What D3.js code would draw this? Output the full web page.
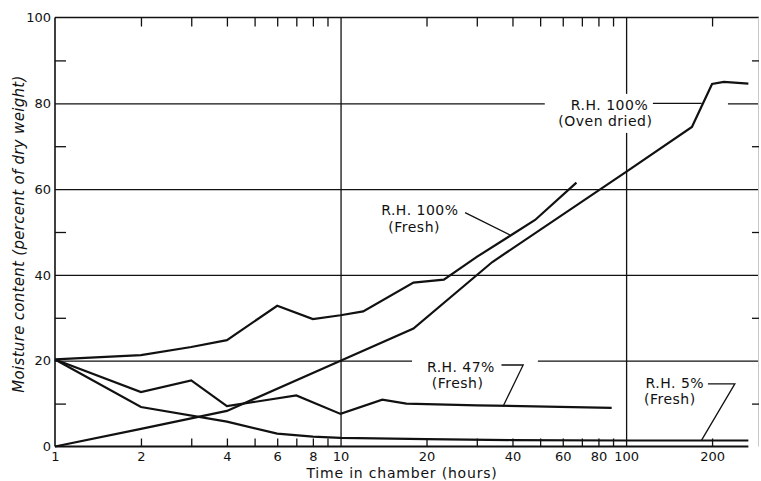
<!DOCTYPE html>
<html><head><meta charset="utf-8">
<script src="https://cdn.jsdelivr.net/npm/d3@7"></script>
<style>body{margin:0;background:#fff}svg{display:block}</style>
</head><body>
<svg id="chart" width="761" height="481"></svg>
<script>
// ---- data ----
const rh100FreshTime  = [1, 2, 3, 4, 6, 8, 10, 12, 18, 23, 30, 48, 67];
const rh100FreshValue = [20.3, 21.3, 23.2, 24.8, 32.8, 29.7, 30.6, 31.5, 38.2, 38.9, 44.2, 52.8, 61.5];

const rh100OvenTime  = [1, 2, 4, 10, 18, 34, 100, 170, 200, 220, 268];
const rh100OvenValue = [0, 4.1, 8.3, 20, 27.5, 43, 64, 74.5, 84.5, 85, 84.6];

const rh47FreshTime  = [1, 2, 3, 4, 7, 10, 14, 17, 30, 89];
const rh47FreshValue = [20.3, 12.7, 15.4, 9.4, 11.9, 7.6, 10.9, 10.0, 9.6, 9.0];

const rh5FreshTime  = [1, 2, 4, 6, 8, 10, 20, 40, 100, 268];
const rh5FreshValue = [20.3, 9.2, 5.8, 3.0, 2.3, 2.0, 1.7, 1.5, 1.4, 1.4];

const xTickLabels = [1, 2, 4, 6, 8, 10, 20, 40, 60, 80, 100, 200];
const xMinorTicks = [2, 3, 4, 5, 6, 7, 8, 9, 20, 30, 40, 50, 60, 70, 80, 90, 200];
const xGridValues = [10, 100];
const yTickLabels = [0, 20, 40, 60, 80, 100];
const yGridValues = [20, 40, 60, 80];
const yMinorTicks = [10, 30, 50, 70, 90];

const xTitle = "Time in chamber (hours)";
const yTitle = "Moisture content (percent of dry weight)";

// annotation texts (line texts) and anchors in data coordinates
const labelLines = [
  {text: "R.H. 100%",    t: 87.5, v: 78.35},
  {text: "(Oven dried)", t: 84.6, v: 74.6},
  {text: "R.H. 100%",    t: 18.96, v: 53.85},
  {text: "(Fresh)",      t: 18.1, v: 50.1},
  {text: "R.H. 47%",     t: 26.4, v: 17.45},
  {text: "(Fresh)",      t: 25.7, v: 13.7},
  {text: "R.H. 5%",      t: 148.2, v: 13.65},
  {text: "(Fresh)",      t: 142.3, v: 9.9}
];
const leaderLines = [
  [[124.1, 80], [184, 80]],
  [[27.3, 54.5], [39.2, 49.3]],
  [[36.6, 19.0], [43.6, 19.0], [37.1, 9.4]],
  [[193.4, 14.6], [240.3, 14.6], [183.8, 1.5]]
];
const gridGaps = [
  {t0: 51.9, t1: 227.3, v0: 73.1, v1: 82.2},
  {t0: 17.8, t1: 49.1, v0: 12.5, v1: 21.3}
];

// ---- drawing ----
const svg = d3.select("#chart");
const font = "'DejaVu Sans', sans-serif";
const x = d3.scaleLog().domain([1, 292]).range([55, 759]);
const y = d3.scaleLinear().domain([0, 100]).range([446.5, 17.5]);
const X0 = x(1), X1 = x(292), Y0 = y(0), Y1 = y(100);
const ink = "#111";

// gridlines
const gy = svg.append("g").attr("transform", `translate(${X0},0)`)
  .call(d3.axisLeft(y).tickValues(yGridValues).tickSize(-(X1 - X0)).tickFormat(""));
gy.select(".domain").remove();
gy.selectAll("line").attr("stroke", ink).attr("stroke-width", 1.3);

const gx = svg.append("g").attr("transform", `translate(0,${Y0})`)
  .call(d3.axisBottom(x).tickValues(xGridValues).tickSize(-(Y0 - Y1)).tickFormat(""));
gx.select(".domain").remove();
gx.selectAll("line").attr("stroke", ink).attr("stroke-width", 1.3);

// gaps in grid behind labels
svg.append("g").selectAll("rect").data(gridGaps).join("rect")
  .attr("x", d => x(d.t0)).attr("width", d => x(d.t1) - x(d.t0))
  .attr("y", d => y(d.v1)).attr("height", d => y(d.v0) - y(d.v1))
  .attr("fill", "#fff");

// frame
svg.append("line").attr("x1", X0).attr("x2", X1).attr("y1", Y1).attr("y2", Y1)
  .attr("stroke", ink).attr("stroke-width", 1.6);
svg.append("line").attr("x1", X0).attr("x2", X0).attr("y1", Y1).attr("y2", Y0)
  .attr("stroke", ink).attr("stroke-width", 1.6);
svg.append("line").attr("x1", X0).attr("x2", x(268)).attr("y1", Y0).attr("y2", Y0)
  .attr("stroke", ink).attr("stroke-width", 1.8);
svg.append("line").attr("x1", X1 - 0.5).attr("x2", X1 - 0.5).attr("y1", Y1).attr("y2", Y0)
  .attr("stroke", "#c8c8c8").attr("stroke-width", 1);

// minor ticks (inward)
function styleTicks(g) {
  g.select(".domain").remove();
  g.selectAll("line").attr("stroke", ink).attr("stroke-width", 1.3);
  g.selectAll("text").remove();
}
svg.append("g").attr("transform", `translate(0,${Y0})`)
  .call(d3.axisBottom(x).tickValues(xMinorTicks).tickSize(-8).tickFormat("")).call(styleTicks);
svg.append("g").attr("transform", `translate(0,${Y1})`)
  .call(d3.axisTop(x).tickValues(xMinorTicks).tickSize(-9).tickFormat("")).call(styleTicks);
svg.append("g").attr("transform", `translate(${X0},0)`)
  .call(d3.axisLeft(y).tickValues(yMinorTicks).tickSize(-11).tickFormat("")).call(styleTicks);
svg.append("g").attr("transform", `translate(${X1},0)`)
  .call(d3.axisRight(y).tickValues(yMinorTicks).tickSize(-7).tickFormat("")).call(styleTicks);

// tick labels
const xl = svg.append("g").attr("transform", `translate(0,${Y0})`)
  .call(d3.axisBottom(x).tickValues(xTickLabels).tickSize(0).tickPadding(5).tickFormat(d3.format("d")));
xl.select(".domain").remove();
xl.selectAll("text").attr("font-family", font).attr("font-size", 13).attr("fill", ink);

const yl = svg.append("g").attr("transform", `translate(${X0},0)`)
  .call(d3.axisLeft(y).tickValues(yTickLabels).tickSize(0).tickPadding(4).tickFormat(d3.format("d")));
yl.select(".domain").remove();
yl.selectAll("text").attr("font-family", font).attr("font-size", 13).attr("fill", ink);

// titles
svg.append("text").attr("x", 402).attr("y", 478).attr("text-anchor", "middle")
  .attr("font-family", font).attr("font-size", 14).attr("letter-spacing", 0.8)
  .attr("fill", ink).text(xTitle);
svg.append("text").attr("transform", "translate(24,234) rotate(-90)").attr("text-anchor", "middle")
  .attr("font-family", font).attr("font-size", 15).attr("font-style", "italic")
  .attr("letter-spacing", 0.3).attr("fill", ink).text(yTitle);

// series
const series = [
  {t: rh100FreshTime, v: rh100FreshValue},
  {t: rh100OvenTime, v: rh100OvenValue},
  {t: rh47FreshTime, v: rh47FreshValue},
  {t: rh5FreshTime, v: rh5FreshValue}
];
const line = d3.line().x(d => x(d[0])).y(d => y(d[1]));
svg.append("g").selectAll("path").data(series).join("path")
  .attr("d", s => line(s.t.map((t, i) => [t, s.v[i]])))
  .attr("fill", "none").attr("stroke", ink).attr("stroke-width", 2.2)
  .attr("stroke-linejoin", "miter");

// annotations
svg.append("g").selectAll("path").data(leaderLines).join("path")
  .attr("d", d => line(d)).attr("fill", "none").attr("stroke", ink).attr("stroke-width", 1.3);
svg.append("g").selectAll("text").data(labelLines).join("text")
  .attr("x", d => x(d.t)).attr("y", d => y(d.v)).attr("text-anchor", "middle")
  .attr("font-family", font).attr("font-size", 14).attr("letter-spacing", 0.5).attr("fill", ink)
  .text(d => d.text);
</script>
</body></html>
